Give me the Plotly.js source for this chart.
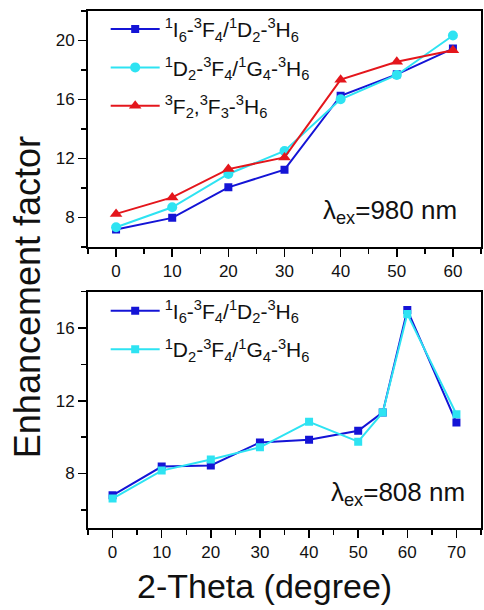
<!DOCTYPE html>
<html>
<head>
<meta charset="utf-8">
<script src="https://cdn.plot.ly/plotly-3.0.1.min.js"></script>
<style>html,body{margin:0;padding:0;background:#fff;}#chart{width:484px;height:610px;}</style>
</head>
<body>
<div id="chart"></div>
<script>
// Top panel (λex = 980 nm)
const angleTop = [0, 10, 20, 30, 40, 50, 60];
const topSeries1 = [7.17, 7.96, 10.03, 11.23, 16.25, 17.7, 19.45];   // 1I6-3F4/1D2-3H6
const topSeries2 = [7.32, 8.68, 10.94, 12.5, 16.01, 17.66, 20.34];   // 1D2-3F4/1G4-3H6
const topSeries3 = [8.23, 9.35, 11.27, 12.06, 17.34, 18.55, 19.33];  // 3F2,3F3-3H6

// Bottom panel (λex = 808 nm)
const angleBottom = [0, 10, 20, 30, 40, 50, 55, 60, 70];
const botSeries1 = [6.8, 8.38, 8.44, 9.71, 9.86, 10.35, 11.36, 17.0, 10.8];
const botSeries2 = [6.62, 8.16, 8.77, 9.44, 10.84, 9.75, 11.36, 16.77, 11.26];

const name1 = '<sup>1</sup>I<sub>6</sub>-<sup>3</sup>F<sub>4</sub>/<sup>1</sup>D<sub>2</sub>-<sup>3</sup>H<sub>6</sub>';
const name2 = '<sup>1</sup>D<sub>2</sub>-<sup>3</sup>F<sub>4</sub>/<sup>1</sup>G<sub>4</sub>-<sup>3</sup>H<sub>6</sub>';
const name3 = '<sup>3</sup>F<sub>2</sub>,<sup>3</sup>F<sub>3</sub>-<sup>3</sup>H<sub>6</sub>';

const BLUE = '#1414d6', CYAN = '#2ee3f2', RED = '#e4161c';
const FONT = 'Liberation Sans, Arial, sans-serif';

const traces = [
  {x: angleTop, y: topSeries1, name: name1, xaxis: 'x', yaxis: 'y', mode: 'lines+markers', legendgroup: 'a',
   line: {color: BLUE, width: 2}, marker: {symbol: 'square', size: 8, color: BLUE}, legend: 'legend'},
  {x: angleTop, y: topSeries2, name: name2, xaxis: 'x', yaxis: 'y', mode: 'lines+markers', legendgroup: 'b',
   line: {color: CYAN, width: 2}, marker: {symbol: 'circle', size: 10, color: CYAN}, legend: 'legend'},
  {x: angleTop, y: topSeries3, name: name3, xaxis: 'x', yaxis: 'y', mode: 'lines+markers', legendgroup: 'c',
   line: {color: RED, width: 2}, marker: {symbol: 'triangle-up', size: 11, color: RED}, legend: 'legend'},
  {x: angleBottom, y: botSeries1, name: name1, xaxis: 'x2', yaxis: 'y2', mode: 'lines+markers', legendgroup: 'd',
   line: {color: BLUE, width: 2}, marker: {symbol: 'square', size: 8, color: BLUE}, legend: 'legend2'},
  {x: angleBottom, y: botSeries2, name: name2, xaxis: 'x2', yaxis: 'y2', mode: 'lines+markers', legendgroup: 'e',
   line: {color: CYAN, width: 2}, marker: {symbol: 'square', size: 8, color: CYAN}, legend: 'legend2'}
];

const axisCommon = {
  showline: true, mirror: true, linecolor: '#000', linewidth: 2,
  ticks: 'outside', ticklen: 8, tickwidth: 1.5, tickcolor: '#000',
  showgrid: false, zeroline: false,
  tickfont: {family: FONT, size: 17, color: '#111'}
};

const layout = {
  width: 484, height: 610,
  margin: {l: 88, r: 3, t: 11, b: 82},
  paper_bgcolor: '#fff', plot_bgcolor: '#fff',
  font: {family: FONT, color: '#111'},
  showlegend: true,
  xaxis: Object.assign({}, axisCommon, {domain: [0, 1], anchor: 'y', range: [-5, 65], tick0: 0, dtick: 10,
    minor: {dtick: 5, ticklen: 5, ticks: 'outside', tickwidth: 1.5, tickcolor: '#000'}}),
  yaxis: Object.assign({}, axisCommon, {domain: [0.544, 1], anchor: 'x', range: [6, 22], tick0: 0, dtick: 4,
    minor: {dtick: 2, ticklen: 5, ticks: 'outside', tickwidth: 1.5, tickcolor: '#000'}}),
  xaxis2: Object.assign({}, axisCommon, {domain: [0, 1], anchor: 'y2', range: [-5, 75], tick0: 0, dtick: 10,
    minor: {dtick: 5, ticklen: 5, ticks: 'outside', tickwidth: 1.5, tickcolor: '#000'}}),
  yaxis2: Object.assign({}, axisCommon, {domain: [0, 0.457], anchor: 'x2', range: [5, 18], tick0: 0, dtick: 4,
    minor: {dtick: 2, ticklen: 5, ticks: 'outside', tickwidth: 1.5, tickcolor: '#000'}}),
  legend: {x: 0.045, y: 1.004, xanchor: 'left', yanchor: 'top', bgcolor: 'rgba(0,0,0,0)',
    font: {family: FONT, size: 21, color: '#111'}, itemwidth: 49, tracegroupgap: 8},
  legend2: {x: 0.045, y: 0.459, xanchor: 'left', yanchor: 'top', bgcolor: 'rgba(0,0,0,0)',
    font: {family: FONT, size: 21, color: '#111'}, itemwidth: 49, tracegroupgap: 8},
  annotations: [
    {text: 'λ<sub>ex</sub>=980 nm', xref: 'paper', yref: 'paper', x: 0.945, y: 0.613,
     xanchor: 'right', yanchor: 'middle', showarrow: false, font: {family: FONT, size: 26, color: '#111'}},
    {text: 'λ<sub>ex</sub>=808 nm', xref: 'paper', yref: 'paper', x: 0.965, y: 0.066,
     xanchor: 'right', yanchor: 'middle', showarrow: false, font: {family: FONT, size: 26, color: '#111'}},
    {text: 'Enhancement factor', xref: 'paper', yref: 'paper', x: -0.152, y: 0.447, textangle: -90,
     xanchor: 'center', yanchor: 'middle', showarrow: false, font: {family: FONT, size: 36, color: '#111'}},
    {text: '2-Theta (degree)', xref: 'paper', yref: 'paper', x: 0.449, y: -0.113,
     xanchor: 'center', yanchor: 'middle', showarrow: false, font: {family: FONT, size: 34, color: '#111'}}
  ]
};

Plotly.newPlot('chart', traces, layout, {displayModeBar: false, staticPlot: true});
</script>
</body>
</html>
